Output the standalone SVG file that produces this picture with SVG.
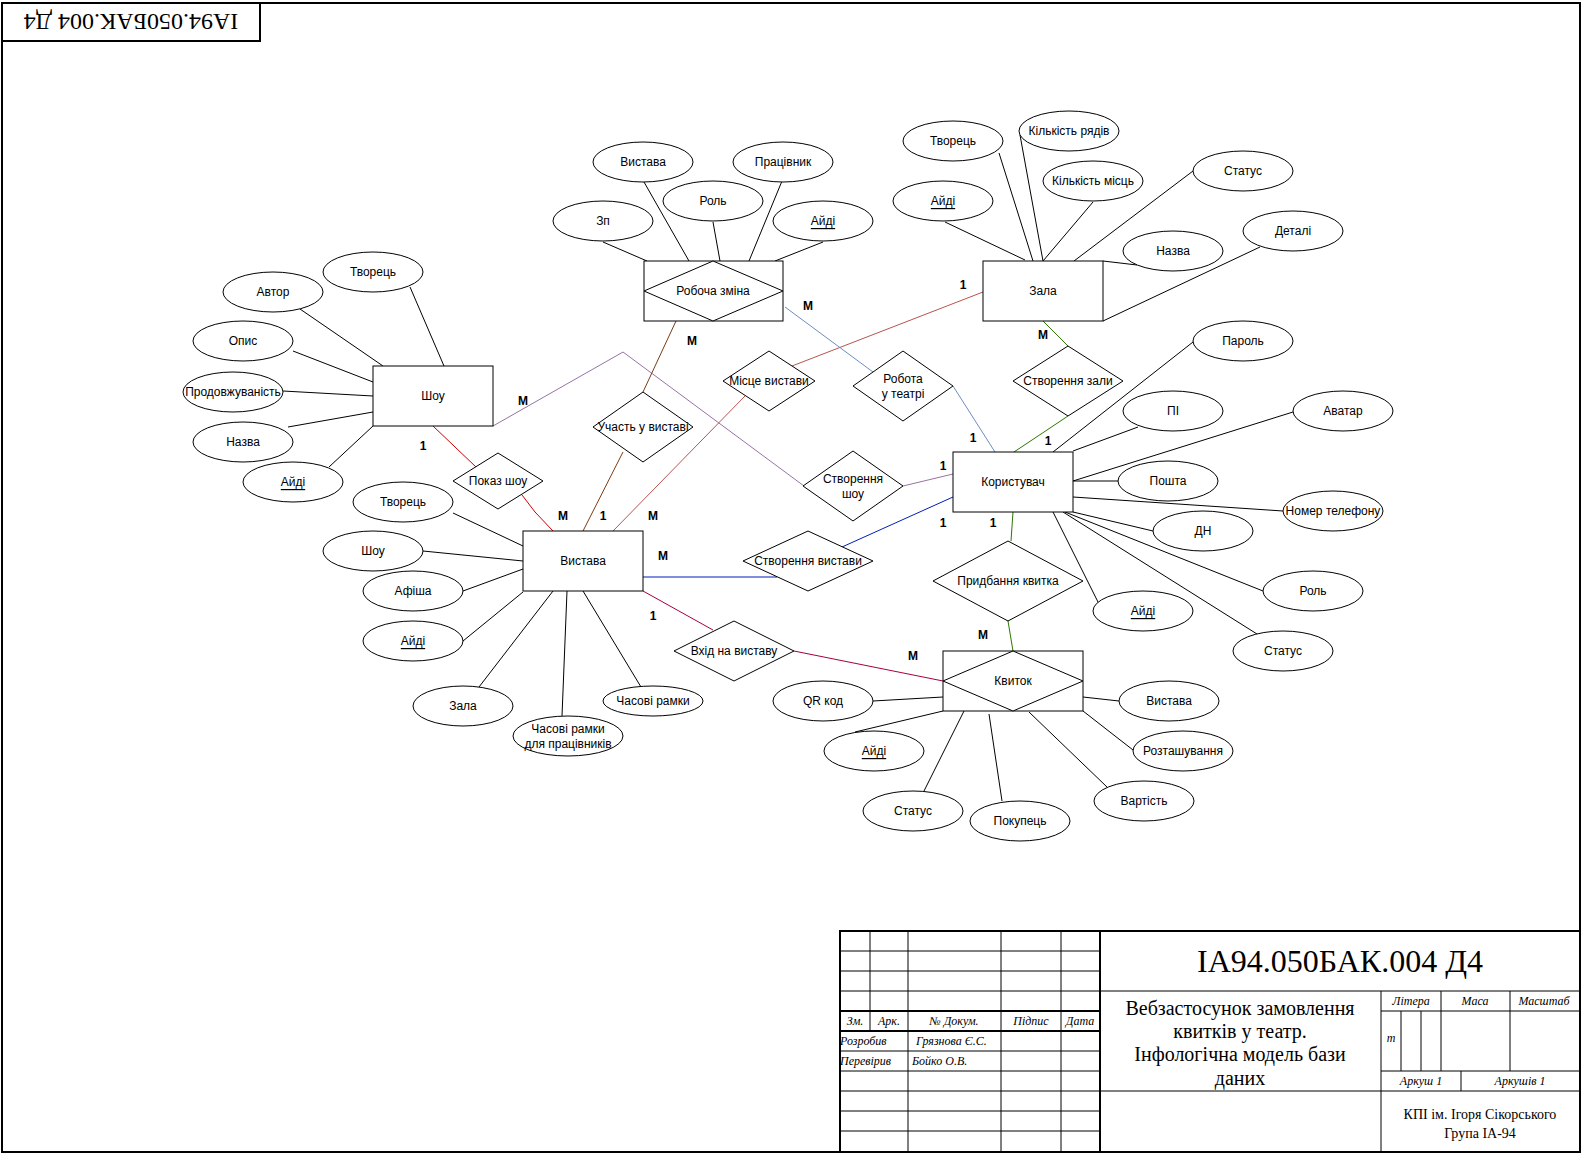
<svg xmlns="http://www.w3.org/2000/svg" width="1584" height="1154" viewBox="0 0 1584 1154">
<style>
.bg{fill:#fff}
.n{fill:#fff;stroke:#000;stroke-width:1}
.a{stroke:#000;stroke-width:1;fill:none}
.t{font-family:"Liberation Sans",Arial,sans-serif;font-size:12px;fill:#000;text-anchor:middle;dominant-baseline:central}
.u{text-decoration:underline}
.c{font-family:"Liberation Sans",Arial,sans-serif;font-size:12px;font-weight:bold;fill:#000;text-anchor:middle;dominant-baseline:central}
.f{fill:none;stroke:#000;stroke-width:2}
.g{stroke:#000;stroke-width:1;fill:none}
.g2{stroke:#000;stroke-width:2;fill:none}
.s{font-family:"Liberation Serif","Times New Roman",serif;fill:#000;text-anchor:middle;dominant-baseline:central}
.si{font-family:"Liberation Serif","Times New Roman",serif;font-style:italic;font-size:12px;fill:#000;dominant-baseline:central}
</style>
<rect class="bg" x="0" y="0" width="1584" height="1154"/>
<rect class="f" x="2" y="3" width="1578" height="1149"/>
<g id="stamp">
<rect class="f" x="2" y="3" width="258" height="38"/>
<text class="s" font-size="24" transform="rotate(180 131 22)" x="131" y="22">ІА94.050БАК.004 Д4</text>
</g>

<g id="attr-lines">
<path class="a" d="M410,287L444,366M300,309L383,366M293,351L373,382M283,391L373,396M288,427L373,412M329,467L373,426"/>
<path class="a" d="M603,242L647,261M644,182L689,261M713,222L720,261M782,181L749,261M823,242L775,261"/>
<path class="a" d="M999,153L1033,261M1020,135L1043,261M1093,202L1043,261M945,222L1025,260M1193,171L1074,261M1103,261L1137,265M1260,247L1103,321"/>
<path class="a" d="M1193,342L1053,452M1138,427L1073,451M1293,412L1073,481M1073,481L1119,481M1073,497L1283,511M1073,512L1153,531M1065,512L1263,591M1063,512L1257,634M1053,512L1098,602"/>
<path class="a" d="M453,513L523,546M423,551L523,561M463,591L523,569M463,641L523,592M479,687L553,591M562,716L567,591M641,687L583,591"/>
<path class="a" d="M873,701L943,697M855,732L943,711M924,791L964,711M1002,801L989,714M1107,787L1029,712M1133,750L1083,711M1083,697L1119,701"/>
</g>

<g id="connectors">
<polyline points="493,426 623,352 804,486" fill="none" stroke="#9673A6"/>
<line x1="903" y1="486" x2="953" y2="474" stroke="#9673A6"/>
<line x1="433" y1="426" x2="476" y2="467" stroke="#CC0000"/>
<polyline points="522,495 535,512 553,531" fill="none" stroke="#CC0000"/>
<line x1="676" y1="321" x2="643" y2="392" stroke="#7A3D14"/>
<line x1="623" y1="452" x2="583" y2="531" stroke="#7A3D14"/>
<line x1="983" y1="292" x2="792" y2="366" stroke="#B85450"/>
<line x1="745" y1="396" x2="613" y2="531" stroke="#B85450"/>
<line x1="785" y1="307" x2="873" y2="372" stroke="#6C8EBF"/>
<line x1="953" y1="386" x2="995" y2="452" stroke="#6C8EBF"/>
<line x1="1043" y1="321" x2="1068" y2="346" stroke="#2D7600"/>
<line x1="1068" y1="416" x2="1014" y2="452" stroke="#2D7600"/>
<line x1="1013" y1="512" x2="1011" y2="541" stroke="#2D7600"/>
<line x1="1008" y1="621" x2="1013" y2="651" stroke="#2D7600"/>
<line x1="953" y1="497" x2="842" y2="547" stroke="#001DBC"/>
<line x1="643" y1="577" x2="777" y2="577" stroke="#001DBC"/>
<line x1="643" y1="591" x2="713" y2="630" stroke="#A50040"/>
<line x1="794" y1="651" x2="943" y2="681" stroke="#A50040"/>
</g>

<g id="cardinalities">
<text class="c" x="523" y="401">M</text>
<text class="c" x="423" y="446">1</text>
<text class="c" x="808" y="306">M</text>
<text class="c" x="692" y="341">M</text>
<text class="c" x="963" y="285">1</text>
<text class="c" x="1043" y="335">M</text>
<text class="c" x="973" y="438">1</text>
<text class="c" x="1048" y="441">1</text>
<text class="c" x="943" y="466">1</text>
<text class="c" x="943" y="523">1</text>
<text class="c" x="993" y="523">1</text>
<text class="c" x="983" y="635">M</text>
<text class="c" x="913" y="656">M</text>
<text class="c" x="563" y="516">M</text>
<text class="c" x="603" y="516">1</text>
<text class="c" x="653" y="516">M</text>
<text class="c" x="663" y="556">M</text>
<text class="c" x="653" y="616">1</text>
</g>

<g id="show"><rect class="n" x="373" y="366" width="120" height="60"/><text class="t" x="433" y="396">Шоу</text></g>
<g id="shift"><rect class="n" x="644" y="261" width="139" height="60"/><polygon class="n" points="644,291 713,261 783,291 713,321"/><text class="t" x="713" y="291">Робоча зміна</text></g>
<g id="hall"><rect class="n" x="983" y="261" width="120" height="60"/><text class="t" x="1043" y="291">Зала</text></g>
<g id="user"><rect class="n" x="953" y="452" width="120" height="60"/><text class="t" x="1013" y="482">Користувач</text></g>
<g id="play"><rect class="n" x="523" y="531" width="120" height="60"/><text class="t" x="583" y="561">Вистава</text></g>
<g id="ticket"><rect class="n" x="943" y="651" width="140" height="60"/><polygon class="n" points="943,681 1013,651 1083,681 1013,711"/><text class="t" x="1013" y="681">Квиток</text></g>

<g id="r-show-display"><polygon class="n" points="453,481 498,453 543,481 498,509"/><text class="t" x="498" y="481">Показ шоу</text></g>
<g id="r-participation"><polygon class="n" points="593,427 643,392 693,427 643,462"/><text class="t" x="643" y="427">Участь у виставі</text></g>
<g id="r-place"><polygon class="n" points="723,381 769,351 815,381 769,411"/><text class="t" x="769" y="381">Місце вистави</text></g>
<g id="r-work"><polygon class="n" points="853,386 903,351 953,386 903,421"/><text class="t" x="903" y="379">Робота</text><text class="t" x="903" y="394">у театрі</text></g>
<g id="r-create-show"><polygon class="n" points="803,486 853,451 903,486 853,521"/><text class="t" x="853" y="479">Створення</text><text class="t" x="853" y="494">шоу</text></g>
<g id="r-create-hall"><polygon class="n" points="1013,381 1068,346 1123,381 1068,416"/><text class="t" x="1068" y="381">Створення зали</text></g>
<g id="r-create-play"><polygon class="n" points="743,561 808,531 873,561 808,591"/><text class="t" x="808" y="561">Створення вистави</text></g>
<g id="r-buy"><polygon class="n" points="933,581 1008,541 1083,581 1008,621"/><text class="t" x="1008" y="581">Придбання квитка</text></g>
<g id="r-entry"><polygon class="n" points="674,651 734,621 794,651 734,681"/><text class="t" x="734" y="651">Вхід на виставу</text></g>

<g id="a-show-creator"><ellipse class="n" cx="373" cy="272" rx="50" ry="20"/><text class="t" x="373" y="272">Творець</text></g>
<g id="a-show-author"><ellipse class="n" cx="273" cy="292" rx="50" ry="20"/><text class="t" x="273" y="292">Автор</text></g>
<g id="a-show-desc"><ellipse class="n" cx="243" cy="341" rx="50" ry="20"/><text class="t" x="243" y="341">Опис</text></g>
<g id="a-show-dur"><ellipse class="n" cx="233" cy="392" rx="50" ry="20"/><text class="t" x="233" y="392">Продовжуваність</text></g>
<g id="a-show-name"><ellipse class="n" cx="243" cy="442" rx="50" ry="20"/><text class="t" x="243" y="442">Назва</text></g>
<g id="a-show-id"><ellipse class="n" cx="293" cy="482" rx="50" ry="20"/><text class="t u" x="293" y="482">Айді</text></g>

<g id="a-shift-pay"><ellipse class="n" cx="603" cy="221" rx="50" ry="20"/><text class="t" x="603" y="221">Зп</text></g>
<g id="a-shift-play"><ellipse class="n" cx="643" cy="162" rx="50" ry="20"/><text class="t" x="643" y="162">Вистава</text></g>
<g id="a-shift-role"><ellipse class="n" cx="713" cy="201" rx="50" ry="20"/><text class="t" x="713" y="201">Роль</text></g>
<g id="a-shift-worker"><ellipse class="n" cx="783" cy="162" rx="50" ry="20"/><text class="t" x="783" y="162">Працівник</text></g>
<g id="a-shift-id"><ellipse class="n" cx="823" cy="221" rx="50" ry="20"/><text class="t u" x="823" y="221">Айді</text></g>

<g id="a-hall-creator"><ellipse class="n" cx="953" cy="141" rx="50" ry="20"/><text class="t" x="953" y="141">Творець</text></g>
<g id="a-hall-rows"><ellipse class="n" cx="1069" cy="131" rx="50" ry="20"/><text class="t" x="1069" y="131">Кількість рядів</text></g>
<g id="a-hall-seats"><ellipse class="n" cx="1093" cy="181" rx="50" ry="20"/><text class="t" x="1093" y="181">Кількість місць</text></g>
<g id="a-hall-id"><ellipse class="n" cx="943" cy="201" rx="50" ry="20"/><text class="t u" x="943" y="201">Айді</text></g>
<g id="a-hall-status"><ellipse class="n" cx="1243" cy="171" rx="50" ry="20"/><text class="t" x="1243" y="171">Статус</text></g>
<g id="a-hall-name"><ellipse class="n" cx="1173" cy="251" rx="50" ry="20"/><text class="t" x="1173" y="251">Назва</text></g>
<g id="a-hall-details"><ellipse class="n" cx="1293" cy="231" rx="50" ry="20"/><text class="t" x="1293" y="231">Деталі</text></g>

<g id="a-user-pass"><ellipse class="n" cx="1243" cy="341" rx="50" ry="20"/><text class="t" x="1243" y="341">Пароль</text></g>
<g id="a-user-name"><ellipse class="n" cx="1173" cy="411" rx="50" ry="20"/><text class="t" x="1173" y="411">ПІ</text></g>
<g id="a-user-avatar"><ellipse class="n" cx="1343" cy="411" rx="50" ry="20"/><text class="t" x="1343" y="411">Аватар</text></g>
<g id="a-user-mail"><ellipse class="n" cx="1168" cy="481" rx="50" ry="20"/><text class="t" x="1168" y="481">Пошта</text></g>
<g id="a-user-phone"><ellipse class="n" cx="1333" cy="511" rx="50" ry="20"/><text class="t" x="1333" y="511">Номер телефону</text></g>
<g id="a-user-bd"><ellipse class="n" cx="1203" cy="531" rx="50" ry="20"/><text class="t" x="1203" y="531">ДН</text></g>
<g id="a-user-id"><ellipse class="n" cx="1143" cy="611" rx="50" ry="20"/><text class="t u" x="1143" y="611">Айді</text></g>
<g id="a-user-role"><ellipse class="n" cx="1313" cy="591" rx="50" ry="20"/><text class="t" x="1313" y="591">Роль</text></g>
<g id="a-user-status"><ellipse class="n" cx="1283" cy="651" rx="50" ry="20"/><text class="t" x="1283" y="651">Статус</text></g>

<g id="a-play-creator"><ellipse class="n" cx="403" cy="502" rx="50" ry="20"/><text class="t" x="403" y="502">Творець</text></g>
<g id="a-play-show"><ellipse class="n" cx="373" cy="551" rx="50" ry="20"/><text class="t" x="373" y="551">Шоу</text></g>
<g id="a-play-poster"><ellipse class="n" cx="413" cy="591" rx="50" ry="20"/><text class="t" x="413" y="591">Афіша</text></g>
<g id="a-play-id"><ellipse class="n" cx="413" cy="641" rx="50" ry="20"/><text class="t u" x="413" y="641">Айді</text></g>
<g id="a-play-hall"><ellipse class="n" cx="463" cy="706" rx="50" ry="20"/><text class="t" x="463" y="706">Зала</text></g>
<g id="a-play-staff-time"><ellipse class="n" cx="568" cy="736" rx="55" ry="20"/><text class="t" x="568" y="729">Часові рамки</text><text class="t" x="568" y="744">для працівників</text></g>
<g id="a-play-time"><ellipse class="n" cx="653" cy="701" rx="50" ry="15"/><text class="t" x="653" y="701">Часові рамки</text></g>

<g id="a-ticket-qr"><ellipse class="n" cx="823" cy="701" rx="50" ry="20"/><text class="t" x="823" y="701">QR код</text></g>
<g id="a-ticket-id"><ellipse class="n" cx="874" cy="751" rx="50" ry="20"/><text class="t u" x="874" y="751">Айді</text></g>
<g id="a-ticket-status"><ellipse class="n" cx="913" cy="811" rx="50" ry="20"/><text class="t" x="913" y="811">Статус</text></g>
<g id="a-ticket-buyer"><ellipse class="n" cx="1020" cy="821" rx="50" ry="20"/><text class="t" x="1020" y="821">Покупець</text></g>
<g id="a-ticket-price"><ellipse class="n" cx="1144" cy="801" rx="50" ry="20"/><text class="t" x="1144" y="801">Вартість</text></g>
<g id="a-ticket-loc"><ellipse class="n" cx="1183" cy="751" rx="50" ry="20"/><text class="t" x="1183" y="751">Розташування</text></g>
<g id="a-ticket-play"><ellipse class="n" cx="1169" cy="701" rx="50" ry="20"/><text class="t" x="1169" y="701">Вистава</text></g>

<g id="title-block">
<path class="g" d="M840,951H1100M840,971H1100M840,991H1100M840,1051H1100M840,1071H1100M840,1091H1100M840,1111H1100M840,1131H1100"/>
<path class="g2" d="M840,1011H1100M840,1031H1100"/>
<path class="g" d="M870,931V1031M908,931V1151M1001,931V1151M1061,931V1151"/>
<rect class="f" x="840" y="931" width="740" height="221"/>
<path class="g2" d="M1100,931V1152"/>
<path class="g" d="M1100,991H1580M1100,1091H1580M1381,991V1152M1381,1011H1580M1381,1071H1580M1441,991V1071M1510,991V1071M1401,1011V1071M1421,1011V1071M1461,1071V1091"/>
<text class="si" x="855" y="1021" text-anchor="middle">Зм.</text>
<text class="si" x="889" y="1021" text-anchor="middle">Арк.</text>
<text class="si" x="954" y="1021" text-anchor="middle">№ Докум.</text>
<text class="si" x="1031" y="1021" text-anchor="middle">Підпис</text>
<text class="si" x="1080" y="1021" text-anchor="middle">Дата</text>
<text class="si" x="840" y="1041">Розробив</text>
<text class="si" x="916" y="1041">Грязнова Є.С.</text>
<text class="si" x="840" y="1061">Перевірив</text>
<text class="si" x="912" y="1061">Бойко О.В.</text>
<text class="s" x="1340" y="961" font-size="32">ІА94.050БАК.004 Д4</text>
<text class="s" x="1240" y="1008" font-size="20">Вебзастосунок замовлення</text>
<text class="s" x="1240" y="1031" font-size="20">квитків у театр.</text>
<text class="s" x="1240" y="1054" font-size="20">Інфологічна модель бази</text>
<text class="s" x="1240" y="1078" font-size="20">даних</text>
<text class="si" x="1411" y="1001" text-anchor="middle">Літера</text>
<text class="si" x="1475" y="1001" text-anchor="middle">Маса</text>
<text class="si" x="1544" y="1001" text-anchor="middle">Масштаб</text>
<text class="si" x="1391" y="1038" text-anchor="middle" font-size="10">т</text>
<text class="si" x="1421" y="1081" text-anchor="middle">Аркуш 1</text>
<text class="si" x="1520" y="1081" text-anchor="middle">Аркушів 1</text>
<text class="s" x="1480" y="1114" font-size="14">КПІ ім. Ігоря Сікорського</text>
<text class="s" x="1480" y="1133" font-size="14">Група ІА-94</text>
</g>
</svg>
